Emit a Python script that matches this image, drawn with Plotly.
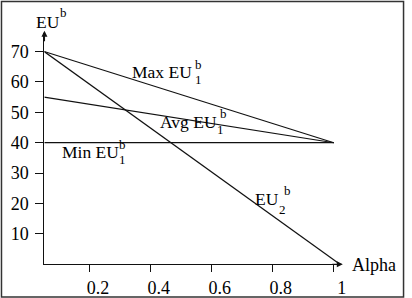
import plotly.graph_objects as go

# ---- data ----
alpha = [0.05, 1.0]
max_eu1 = [70, 40]
avg_eu1 = [55, 40]
min_eu1 = [40, 40]
alpha_eu2 = [0.05, 1.02]
eu2 = [70, 0]

x_tickvals = [0.2, 0.4, 0.6, 0.8, 1.0]
x_ticktext = ["0.2", "0.4", "0.6", "0.8", "1"]
y_tickvals = [10, 20, 30, 40, 50, 60, 70]
y_ticktext = ["10", "20", "30", "40", "50", "60", "70"]

W, H = 412, 298
FONT = "Liberation Serif"
LC = "#111111"


def px(x):
    return x / W


def py(y):
    return 1 - y / H


fig = go.Figure()
line_style = dict(color=LC, width=1.2)
for xs, ys in [(alpha, max_eu1), (alpha, avg_eu1), (alpha, min_eu1), (alpha_eu2, eu2)]:
    fig.add_trace(go.Scatter(x=xs, y=ys, mode="lines", line=line_style,
                             showlegend=False, hoverinfo="skip"))

fig.update_layout(
    width=W, height=H,
    margin=dict(l=0, r=0, t=0, b=0),
    paper_bgcolor="white", plot_bgcolor="white",
    font=dict(family=FONT, size=18, color="black"),
    xaxis=dict(domain=[px(45), px(345)], range=[0.051, 1.023],
               showline=True, linecolor=LC, linewidth=1.2, showgrid=False,
               zeroline=False, ticks="outside", ticklen=7, tickwidth=1.2,
               tickcolor=LC, tickvals=x_tickvals, ticktext=x_ticktext,
               ticklabelshift=8, ticklabelstandoff=0,
               tickfont=dict(family=FONT, size=18, color="black")),
    yaxis=dict(domain=[py(267), py(33)], range=[0, 76.2],
               showline=True, linecolor=LC, linewidth=1.2, showgrid=False,
               zeroline=False, ticks="outside", ticklen=8, tickwidth=1.2,
               tickcolor=LC, tickvals=y_tickvals, ticktext=y_ticktext,
               ticklabelstandoff=3,
               tickfont=dict(family=FONT, size=18, color="black")),
)

annots = []
# axis arrows
annots.append(dict(xref="paper", yref="paper", x=px(45), y=py(31), ax=0, ay=12,
                   text="", showarrow=True, arrowhead=2, arrowsize=1,
                   arrowwidth=1.2, arrowcolor=LC))
annots.append(dict(xref="paper", yref="paper", x=px(347), y=py(267), ax=-12, ay=0,
                   text="", showarrow=True, arrowhead=2, arrowsize=1,
                   arrowwidth=1.2, arrowcolor=LC))


def txt(x, y, s, size=17.5, xanchor="center"):
    annots.append(dict(xref="paper", yref="paper", x=px(x), y=py(y), text=s,
                       showarrow=False, xanchor=xanchor, yanchor="middle",
                       font=dict(family=FONT, size=size, color="black")))


SUB = 13
# axis titles
txt(34, 22, "EU", xanchor="left")
txt(64, 13, "b", size=SUB)
txt(354, 268, "Alpha", size=18, xanchor="left")

# series labels
txt(132, 73, "Max EU", xanchor="left")
txt(201, 65, "b", size=SUB)
txt(201, 80, "1", size=SUB)

txt(160, 123, "Avg EU", xanchor="left")
txt(226, 115, "b", size=SUB)
txt(223, 131, "1", size=SUB)

txt(61, 154, "Min EU", xanchor="left")
txt(124, 146, "b", size=SUB)
txt(124, 161, "1", size=SUB)

txt(256, 201, "EU", xanchor="left")
txt(291, 192, "b", size=SUB)
txt(286, 212, "2", size=SUB)

fig.update_layout(annotations=annots)

# outer frame
fig.add_shape(type="rect", xref="paper", yref="paper",
              x0=px(1.5), x1=px(408.5), y0=py(300), y1=py(1.5),
              line=dict(color="#333333", width=1.5), fillcolor="rgba(0,0,0,0)")

fig.write_html("out.html")
